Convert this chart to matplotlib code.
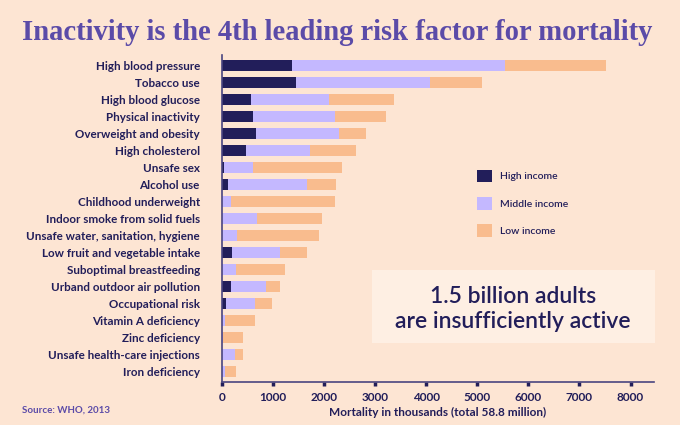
import matplotlib
matplotlib.use('Agg')
import matplotlib.pyplot as plt
import numpy as np

BG = '#FDE5D3'
NAVY = '#221E5A'
LAV = '#C4B8FF'
PEACH = '#F9BC8E'
PURPLE = '#5B4BA8'

risks = ['High blood pressure', 'Tobacco use', 'High blood glucose', 'Physical inactivity',
         'Overweight and obesity', 'High cholesterol', 'Unsafe sex', 'Alcohol use',
         'Childhood underweight', 'Indoor smoke from solid fuels',
         'Unsafe water, sanitation, hygiene', 'Low fruit and vegetable intake',
         'Suboptimal breastfeeding', 'Urband outdoor air pollution', 'Occupational risk',
         'Vitamin A deficiency', 'Zinc deficiency', 'Unsafe health-care injections',
         'Iron deficiency']
high_income = [1370, 1450, 560, 610, 670, 465, 40, 110, 0, 0, 0, 190, 0, 185, 85, 0, 0, 0, 0]
middle_income = [4180, 2630, 1530, 1600, 1630, 1255, 570, 1545, 170, 680, 290, 950, 270, 680, 555, 60, 20, 250, 50]
low_income = [1960, 1020, 1280, 1000, 520, 895, 1740, 575, 2050, 1280, 1615, 530, 970, 275, 335, 580, 400, 160, 220]
xticks = [0, 1000, 2000, 3000, 4000, 5000, 6000, 7000, 8000]

plt.rcParams['font.family'] = ['Lato', 'DejaVu Sans']

fig = plt.figure(figsize=(6.8, 4.25), dpi=100, facecolor=BG)
ax = fig.add_axes([0.3265, 0.1012, 0.6353, 0.7694])
ax.set_facecolor(BG)

y = np.arange(len(risks))
hi = np.array(high_income)
mid = np.array(middle_income)
lo = np.array(low_income)
ax.barh(y, hi, height=0.67, color=NAVY, label='High income')
ax.barh(y, mid, left=hi, height=0.67, color=LAV, label='Middle income')
ax.barh(y, lo, left=hi + mid, height=0.67, color=PEACH, label='Low income')

ax.set_xlim(0, 8460)
ax.set_ylim(18.6, -0.6)
ax.set_yticks(y)
ax.set_yticklabels(risks, fontsize=8.4, color=NAVY, fontweight='bold')
ax.tick_params(axis='y', length=0, pad=16)
ax.set_xticks(xticks)
ax.set_xticklabels([str(t) for t in xticks], fontsize=8.5, color=NAVY, fontweight='bold')
ax.tick_params(axis='x', direction='out', length=3, width=2.5, color=NAVY, pad=4)
for s in ['top', 'right']:
    ax.spines[s].set_visible(False)
for s in ['left', 'bottom']:
    ax.spines[s].set_color('#4A4580')
    ax.spines[s].set_linewidth(1.2)
ax.set_xlabel('Mortality in thousands (total 58.8 million)', fontsize=8.5, color=NAVY,
              fontweight='bold', labelpad=3)

leg = ax.legend(loc='upper left', bbox_to_anchor=(0.58, 0.662), frameon=False,
                fontsize=7.5, handlelength=1.5, handleheight=1.5, labelspacing=1.4,
                handletextpad=0.7, borderaxespad=0)
for t in leg.get_texts():
    t.set_color(NAVY)
    t.set_fontweight('semibold')

# callout box
fig.patches.append(plt.Rectangle((372 / 680, 1 - 343 / 425), 283 / 680, 73 / 425,
                                 transform=fig.transFigure, facecolor='#FEEFE3',
                                 edgecolor='none', zorder=1))
fig.text(513 / 680, 1 - 309 / 425, '1.5 billion adults\nare insufficiently active',
         ha='center', va='center', fontsize=16.5, color=NAVY, fontweight='semibold',
         linespacing=1.25)

fig.text(22 / 680, 1 - 33 / 425, 'Inactivity is the 4th leading risk factor for mortality',
         ha='left', va='center', fontsize=20.6, color=PURPLE, family='Liberation Serif',
         fontweight='bold')
fig.text(22 / 680, 1 - 410 / 425, 'Source: WHO, 2013', ha='left', va='center',
         fontsize=7, color=PURPLE, fontweight='bold')

plt.savefig('out.png', dpi=100, facecolor=BG)
